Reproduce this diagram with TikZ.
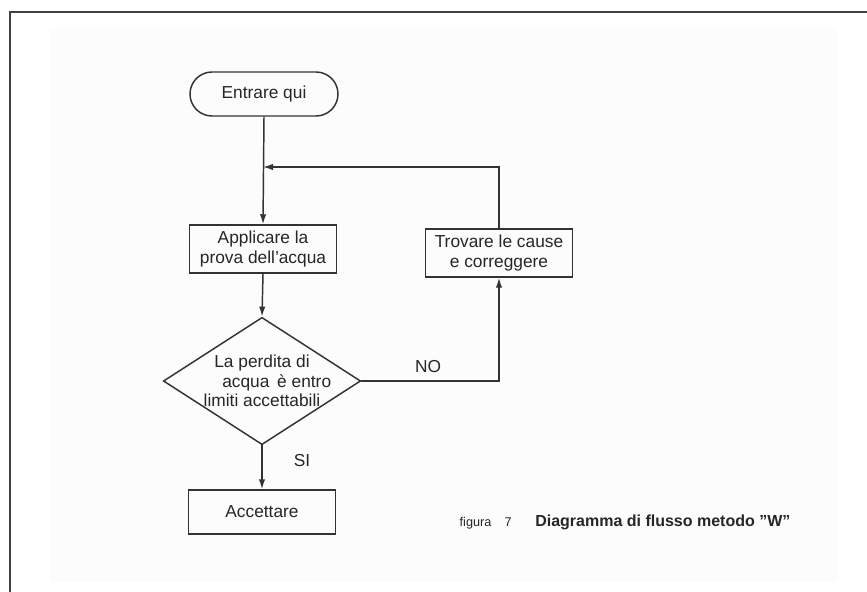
\documentclass[tikz,border=0pt]{standalone}
\usepackage{fontspec}
\setmainfont{Liberation Sans}
\usetikzlibrary{arrows.meta,shapes.geometric}
\tikzset{
  ln/.style={draw=black!80, line width=1.1pt},
  arr/.style={ln, -{Latex[length=7.5pt,width=4.8pt]}},
  bodytext/.style={font=\fontsize{13}{15}\selectfont, text=black!85},
  procbox/.style={ln, bodytext, rectangle, minimum width=110.5pt, minimum height=36pt, inner sep=0pt, align=center},
  termbox/.style={ln, bodytext, rectangle, rounded corners=16.5pt, minimum width=111pt, minimum height=33pt, inner sep=0pt},
  decision/.style={ln, diamond, minimum width=148pt, minimum height=95.5pt, inner sep=0pt},
  lbl/.style={bodytext, inner sep=0pt}
}
\begin{document}
\begin{tikzpicture}[x=0.75pt,y=-0.75pt]
\useasboundingbox (0,0) rectangle (867,592);
% faint page background and frame
\fill[black!1] (50,29) rectangle (837,582);
\draw[black!75, line width=1.5pt] (867,12) -- (10,12) -- (10,592);

% nodes
\node[termbox] (start) at (264,94) {Entrare qui};
\node[procbox] (app) at (263,249) {Applicare la\\prova dell'acqua};
\node[decision] (dec) at (262,381) {};
\node[lbl, align=center, font=\fontsize{13}{14.8}\selectfont] (dectext) at (dec.center) {La perdita di\\\hspace*{1.7em}acqua \,è entro\\limiti accettabili};
\node[procbox] (trov) at (499,253) {Trovare le cause\\e correggere};
\node[procbox, minimum height=33pt] (acc) at (262,512) {Accettare};
\coordinate (j) at (263,167);

% connectors
\draw[arr] (start.south) -- (app.north);
\draw[arr] (trov.north) |- (j);
\draw[arr] (app.south) -- (dec.north);
\draw[arr] (dec.east) -| (trov.south);
\draw[arr] (dec.south) -- (acc.north);

% labels
\node[lbl] (no) at (428,367) {NO};
\node[lbl] (si) at (302,461) {SI};

% caption
\node[anchor=east, inner sep=0pt, font=\fontsize{9.5}{11}\selectfont, text=black!85] (fig) at (512,523) {figura\hspace{10pt}7};
\node[anchor=west, inner sep=0pt, font=\bfseries\fontsize{12}{14}\selectfont, text=black!85] (title) at (535,522) {Diagramma di flusso metodo "W"};
\end{tikzpicture}
\end{document}
